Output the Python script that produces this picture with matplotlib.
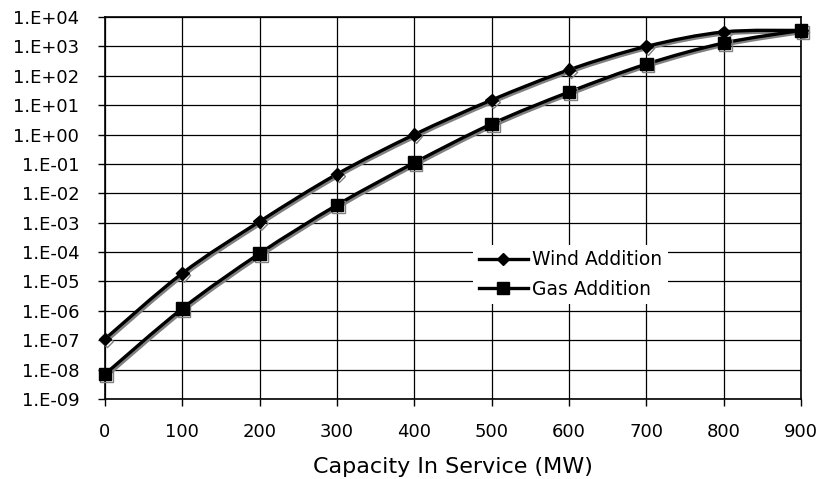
import numpy as np
import matplotlib.pyplot as plt
import matplotlib.patheffects as pe
from matplotlib.path import Path
from matplotlib.patches import PathPatch
from matplotlib.lines import Line2D

# Capacity in service (MW)
capacity = [0, 100, 200, 300, 400, 500, 600, 700, 800, 900]

# values (log scale)
wind = [1.1e-7, 1.9e-5, 1.1e-3, 4.5e-2, 1.0, 15, 160, 1000, 3100, 3500]
gas = [7e-9, 1.2e-6, 9e-5, 4e-3, 0.11, 2.3, 28, 250, 1300, 3500]

ytick_vals = [10.0**k for k in range(-9, 5)]
ytick_labels = [("1.E-%02d" % -k) if k < 0 else ("1.E+%02d" % k) for k in range(-9, 5)]

plt.rcParams['font.family'] = ['DejaVu Sans']

fig = plt.figure(figsize=(8.2, 4.79), dpi=100)
ax = fig.add_axes([0.128, 0.167, 0.849, 0.7975])
ax.set_yscale('log')
ax.set_xlim(0, 900)
ax.set_ylim(1e-9, 1e4)

shadow = [pe.SimpleLineShadow(offset=(1.2, -1.4), shadow_color='#808080', alpha=1.0),
          pe.Normal()]


def smooth_path(xs, ys):
    # Excel style smoothed line: cubic bezier segments, built in log space
    x = np.asarray(xs, float)
    y = np.log10(np.asarray(ys, float))
    n = len(x)
    verts = [(x[0], y[0])]
    codes = [Path.MOVETO]
    for i in range(n - 1):
        p0 = np.array([x[max(i - 1, 0)], y[max(i - 1, 0)]])
        p1 = np.array([x[i], y[i]])
        p2 = np.array([x[i + 1], y[i + 1]])
        p3 = np.array([x[min(i + 2, n - 1)], y[min(i + 2, n - 1)]])
        c1 = p1 + (p2 - p0) / 6.0
        c2 = p2 - (p3 - p1) / 6.0
        verts += [tuple(c1), tuple(c2), tuple(p2)]
        codes += [Path.CURVE4] * 3
    verts = [(vx, 10.0**vy) for vx, vy in verts]
    return Path(verts, codes)


for ys, mk, ms in [(wind, 'D', 6.5), (gas, 's', 9)]:
    patch = PathPatch(smooth_path(capacity, ys), facecolor='none', edgecolor='black',
                      lw=2.4, zorder=3, capstyle='round', joinstyle='round')
    patch.set_path_effects(shadow)
    ax.add_patch(patch)
    ln, = ax.plot(capacity, ys, linestyle='none', marker=mk, ms=ms, color='black',
                  zorder=4, clip_on=False)
    ln.set_path_effects(shadow)

ax.set_xticks(capacity)
ax.set_yticks(ytick_vals)
ax.set_yticklabels(ytick_labels)
ax.minorticks_off()
ax.grid(True, color='black', lw=0.9)
ax.set_axisbelow(True)
for s in ax.spines.values():
    s.set_linewidth(1.2)
ax.tick_params(axis='y', length=5, width=1, pad=13.5, labelsize=13)
ax.tick_params(axis='x', length=5, width=1, pad=12.5, labelsize=13)
ax.set_xlabel('Capacity In Service (MW)', fontsize=16, labelpad=11)

handles = [Line2D([], [], color='black', lw=2.4, marker='D', ms=6),
           Line2D([], [], color='black', lw=2.4, marker='s', ms=8.5)]
leg = ax.legend(handles, ['Wind Addition', 'Gas Addition'], loc='center',
                bbox_to_anchor=(0.669, 0.326), fontsize=13.5, frameon=True,
                facecolor='white', edgecolor='none', framealpha=1, fancybox=False,
                handlelength=2.6, handletextpad=0.25, labelspacing=0.57,
                borderpad=0.3)
leg.set_zorder(5)

fig.savefig('out.png', dpi=100)
